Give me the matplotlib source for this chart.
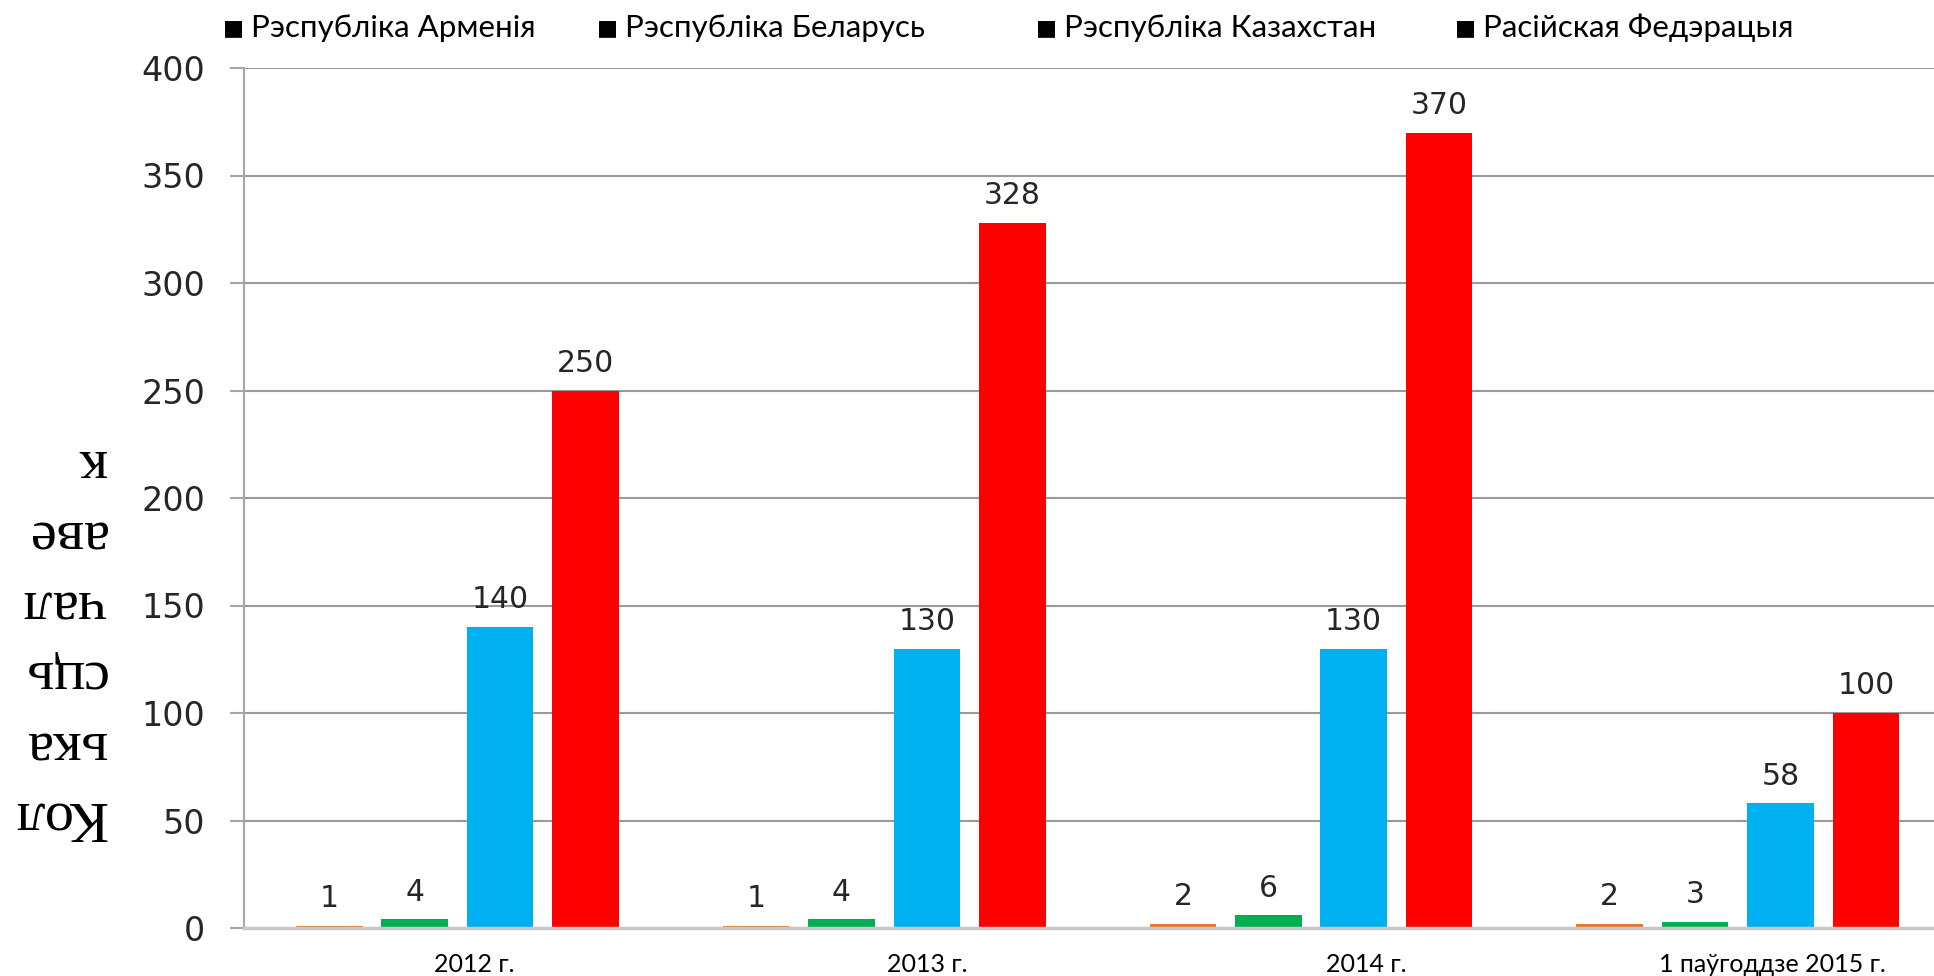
import numpy as np
import matplotlib
matplotlib.use("Agg")
import matplotlib.pyplot as plt

# ------------------------------------------------------
# Дадзеныя
# ------------------------------------------------------
categories = ["2012 г.", "2013 г.", "2014 г.", "1 паўгоддзе 2015 г."]
series_names = ["Рэспубліка Арменія", "Рэспубліка Беларусь",
                "Рэспубліка Казахстан", "Расійская Федэрацыя"]
armenia = [1, 1, 2, 2]
belarus = [4, 4, 6, 3]
kazakhstan = [140, 130, 130, 58]
russia = [250, 328, 370, 100]
y_ticks = [0, 50, 100, 150, 200, 250, 300, 350, 400]
y_label = "Кол\nька\nсць\nчал\nаве\nк"

colors = ["#E2792E", "#00B050", "#00B0F0", "#FF0000"]

# ------------------------------------------------------
# Малюнак
# ------------------------------------------------------
fig = plt.figure(figsize=(19.34, 9.76), dpi=100)
W, H = 1934, 976
ax_left, ax_right, ax_top, ax_bottom = 244, 244 + 4 * 426.8, 68, 928
ax = fig.add_axes([ax_left / W, (H - ax_bottom) / H,
                   (ax_right - ax_left) / W, (ax_bottom - ax_top) / H])

x = np.arange(len(categories)) + 0.5
bar_w = 0.156
step = 0.2
values = [armenia, belarus, kazakhstan, russia]
for i, (vals, col) in enumerate(zip(values, colors)):
    xs = x + (i - 1.5) * step
    ax.bar(xs, vals, width=bar_w, color=col, zorder=3)
    for xx, v in zip(xs, vals):
        ax.annotate(str(v), (xx, v), xytext=(0, 9), textcoords="offset points",
                    ha="center", va="bottom", fontsize=21.5,
                    family="DejaVu Sans", color="#262626")

ax.set_xlim(0, len(categories))
ax.set_ylim(0, 400)
ax.set_yticks(y_ticks)
ax.set_yticklabels([str(t) for t in y_ticks], fontsize=24,
                   family="DejaVu Sans", color="#262626")
ax.tick_params(axis="y", length=10, width=1.5, color="#a6a6a6", pad=18)

# подпісы па восі X (крыху зрушаныя, як у арыгінале)
label_shift = [0.04, 0.10, 0.13, 0.08]
ax.set_xticks(x + np.array(label_shift))
ax.set_xticklabels(categories, fontsize=18, family="Lato", color="black")
ax.tick_params(axis="x", length=0, pad=18)

ax.grid(axis="y", color="#9a9a9a", linewidth=1.5, zorder=0)
for s in ["top", "right"]:
    ax.spines[s].set_visible(False)
ax.spines["left"].set_color("#a6a6a6")
ax.spines["left"].set_linewidth(1.5)
ax.spines["bottom"].set_color("#c8c8c8")
ax.spines["bottom"].set_linewidth(2.5)
ax.spines["bottom"].set_zorder(4)

# легенда - тэкст уверсе
legend_x = [223, 597, 1036, 1455]
for name, lx in zip(series_names, legend_x):
    fig.text(lx / W, 1 - 28 / H, "■", fontsize=16,
             family="DejaVu Sans", ha="left", va="center")
    fig.text((lx + 28) / W, 1 - 28 / H, name, fontsize=22.5,
             family="Lato", ha="left", va="center")

# подпіс восі Y (перавернуты)
fig.text(106 / W, 1 - 640 / H, y_label, rotation=180, fontsize=42,
         family="Liberation Serif", ha="right", va="center",
         multialignment="left", linespacing=1.46)

plt.savefig("out.png", dpi=100)
